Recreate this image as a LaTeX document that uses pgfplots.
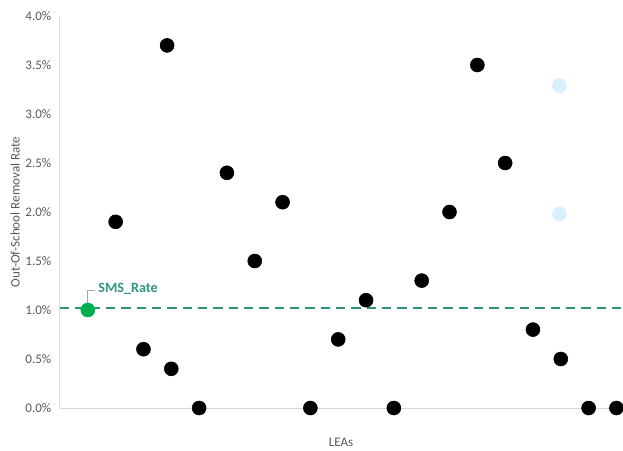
\documentclass[border=0pt]{standalone}
\usepackage{pgfplots}
\pgfplotsset{compat=1.18}
\usepackage{fontspec}
\setmainfont{Carlito}
\definecolor{axgray}{RGB}{217,217,217}
\definecolor{txtgray}{RGB}{89,89,89}
\definecolor{teal2}{RGB}{47,150,126}
\definecolor{smsgreen}{RGB}{0,176,80}
\definecolor{lightblue}{RGB}{214,241,250}
\begin{document}
\begin{tikzpicture}
\useasboundingbox (-45pt,-31.5pt) rectangle (422.25pt,306pt);
\begin{axis}[
  scale only axis,
  width=421.5pt, height=294pt,
  xmin=0, xmax=20.2,
  ymin=0, ymax=4,
  axis lines*=left,
  axis line style={axgray, line width=0.75pt},
  xtick=\empty,
  ytick={0,0.5,...,4},
  major tick length=0pt,
  yticklabel={\pgfmathprintnumber[fixed,fixed zerofill,precision=1]{\tick}\%},
  /pgf/number format/assume math mode=true,
  ticklabel style={font=\fontsize{9.8}{11}\selectfont, text=txtgray},
  yticklabel style={xshift=-3pt},
  ylabel={Out-Of-School Removal Rate},
  xlabel={LEAs},
  label style={font=\fontsize{9.8}{11}\selectfont, text=txtgray},
  ylabel style={at={(axis description cs:-0.08,0.5)}, anchor=center},
  xlabel style={at={(axis description cs:0.5,0)}, anchor=center, yshift=-26pt},
  clip=false,
]
\addplot[teal2, dashed, line width=1.5pt, dash pattern=on 7pt off 4.5pt, forget plot]
  coordinates {(0,1.02) (20.2,1.02)};
\addplot[only marks, mark=*, mark size=5.25pt, draw=black, fill=black]
  coordinates {
  (2,1.9) (3,0.6) (3.85,3.7) (4,0.4) (5,0.0) (6,2.4) (7,1.5) (8,2.1)
  (9,0.0) (10,0.7) (11,1.1) (12,0.0) (13,1.3) (14,2.0) (15,3.5) (16,2.5)
  (17,0.8) (18,0.5) (19,0.0) (20,0.0)};
\addplot[only marks, mark=*, mark size=5.25pt, draw=lightblue, fill=lightblue]
  coordinates {(17.95,3.29) (17.95,1.98)};
\addplot[only marks, mark=*, mark size=5.25pt, draw=smsgreen, fill=smsgreen]
  coordinates {(1,1.0)};
\draw[gray!70, line width=0.6pt] (axis cs:1,1.0) -- (axis cs:1,1.2) -- (axis cs:1.26,1.2);
\node[anchor=west, inner sep=0pt, text=teal2, font=\fontsize{10.6}{12}\selectfont\bfseries] at (axis cs:1.37,1.22) {SMS\_Rate};
\end{axis}
\end{tikzpicture}
\end{document}
